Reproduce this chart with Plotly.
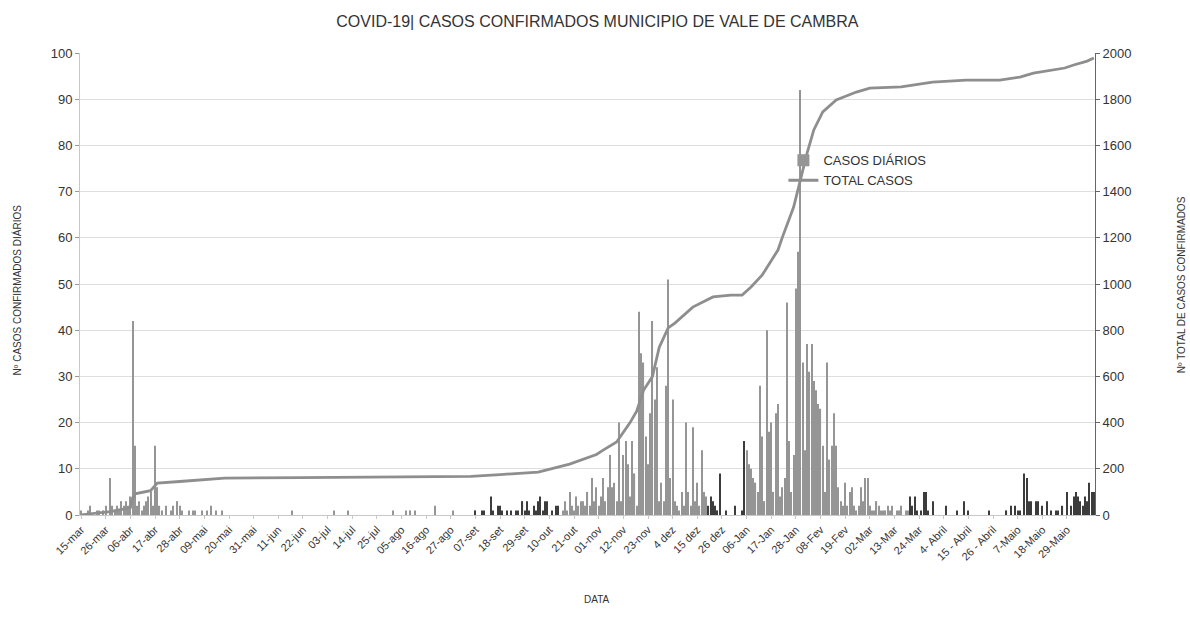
import pandas as pd
import plotly.graph_objects as go

# ---------------- DATA ----------------
data_inicio = "2020-03-15"

casos_mar_2020 = [1, 0, 0, 1, 2, 0, 0, 1, 1, 0, 1, 2, 0, 8, 2, 1, 2]
casos_abr_2020 = [1, 3, 2, 3, 2, 4, 42, 15, 2, 3, 1, 2, 3, 4, 5, 2, 15, 6, 2, 1,
                  0, 2, 0, 1, 2, 0, 3, 2, 1, 0]
casos_mai_2020 = [0, 1, 0, 1, 1, 0, 0, 1, 0, 1, 0, 2, 0, 1, 0, 0, 1, 0, 0, 0,
                  0, 0, 0, 0, 0, 0, 0, 0, 0, 0, 0]
casos_jun_2020 = [0, 0, 0, 0, 0, 0, 0, 0, 0, 0, 0, 0, 0, 0, 0, 0, 1, 0, 0, 0,
                  0, 0, 0, 0, 0, 0, 0, 0, 0, 0]
casos_jul_2020 = [0, 0, 0, 0, 0, 1, 0, 0, 0, 0, 0, 1, 0, 0, 0, 0, 0, 0, 0, 0,
                  0, 0, 0, 0, 0, 0, 0, 0, 0, 0, 0]
casos_ago_2020 = [1, 0, 0, 0, 0, 0, 1, 0, 1, 0, 1, 0, 0, 0, 0, 0, 0, 0, 0, 2,
                  0, 0, 0, 0, 0, 0, 0, 1, 0, 0, 0]
casos_set_2020 = [0, 0, 0, 0, 0, 0, 1, 0, 0, 1, 1, 0, 0, 4, 1, 0, 2, 2, 1, 0,
                  1, 0, 1, 0, 1, 1, 0, 3, 1, 3]
casos_out_2020 = [1, 0, 2, 1, 3, 4, 1, 3, 3, 0, 1, 0, 2, 2, 0, 1, 3, 1, 5, 2,
                  1, 4, 2, 3, 3, 2, 5, 2, 8, 3, 6]
casos_nov_2020 = [2, 4, 8, 3, 6, 13, 6, 7, 3, 20, 3, 13, 16, 11, 4, 16, 9, 2, 44, 35,
                  33, 17, 11, 22, 42, 25, 32, 3, 7, 3]
casos_dez_2020 = [28, 51, 8, 25, 3, 2, 1, 5, 2, 20, 5, 2, 19, 3, 7, 2, 14, 5, 4, 2,
                  4, 3, 2, 1, 9, 0, 0, 1, 0, 0, 0]
casos_jan_2021 = [2, 0, 0, 1, 16, 14, 11, 10, 8, 7, 5, 28, 17, 3, 40, 18, 20, 5, 22, 24,
                  4, 6, 8, 46, 16, 5, 13, 49, 57, 92, 33]
casos_fev_2021 = [14, 37, 31, 37, 29, 27, 24, 23, 15, 5, 33, 12, 15, 22, 15, 6, 3, 2, 7, 2,
                  5, 6, 2, 1, 2, 6, 3, 8]
casos_mar_2021 = [8, 2, 1, 1, 3, 2, 1, 1, 1, 2, 1, 2, 0, 1, 1, 2, 0, 1, 1, 4,
                  2, 4, 1, 0, 1, 5, 5, 1, 0, 3, 0]
casos_abr_2021 = [0, 0, 0, 0, 2, 0, 0, 0, 0, 1, 0, 0, 3, 0, 1, 0, 0, 0, 0, 0,
                  0, 0, 0, 1, 0, 0, 0, 0, 0, 0]
casos_mai_2021 = [0, 1, 0, 2, 0, 2, 1, 1, 0, 9, 8, 3, 3, 0, 3, 3, 0, 2, 0, 3,
                  0, 1, 0, 1, 1, 0, 2, 0, 5, 0, 2]
casos_jun_2021 = [4, 5, 4, 3, 2, 4, 3, 7, 5, 5]

datas_total = ["2020-03-15", "2020-03-28", "2020-04-04", "2020-04-06", "2020-04-07",
               "2020-04-08", "2020-04-15", "2020-04-17", "2020-04-18", "2020-04-28",
               "2020-05-07", "2020-05-18", "2020-06-21", "2020-08-04", "2020-09-05",
               "2020-09-18", "2020-10-05", "2020-10-19", "2020-10-31", "2020-11-03",
               "2020-11-09", "2020-11-15", "2020-11-18", "2020-11-21", "2020-11-25",
               "2020-11-28", "2020-12-02", "2020-12-05", "2020-12-13", "2020-12-22",
               "2020-12-30", "2021-01-04", "2021-01-08", "2021-01-13", "2021-01-17",
               "2021-01-20", "2021-01-22", "2021-01-27", "2021-01-30", "2021-02-02",
               "2021-02-05", "2021-02-09", "2021-02-15", "2021-02-24", "2021-03-02",
               "2021-03-16", "2021-03-30", "2021-04-14", "2021-04-29", "2021-05-08",
               "2021-05-14", "2021-05-20", "2021-05-23", "2021-05-28", "2021-06-01",
               "2021-06-07", "2021-06-10"]
valores_total = [1, 15, 28, 32, 75,
                 92, 105, 125, 138, 145,
                 153, 160, 162, 164, 167,
                 175, 186, 220, 262, 281,
                 316, 400, 450, 540, 600,
                 725, 810, 831, 900, 944,
                 952, 952, 987, 1039, 1104,
                 1147, 1203, 1333, 1450, 1567,
                 1667, 1745, 1797, 1831, 1848,
                 1853, 1874, 1883, 1883, 1896,
                 1913, 1922, 1926, 1935, 1948,
                 1965, 1978]

rotulos_x = ["15-mar", "26-mar", "06-abr", "17-abr", "28-abr", "09-mai", "20-mai",
             "31-mai", "11-jun", "22-jun", "03-jul", "14-jul", "25-jul", "05-ago",
             "16-ago", "27-ago", "07-set", "18-set", "29-set", "10-out", "21-out",
             "01-nov", "12-nov", "23-nov", "4 dez", "15 dez", "26 dez", "06-Jan",
             "17-Jan", "28-Jan", "08-Fev", "19-Fev", "02-Mar", "13-Mar", "24-Mar",
             "4- Abril", "15 - Abril", "26 - Abril", "7-Maio", "18-Maio", "29-Maio"]

# ---------------- BUILD ----------------
casos_diarios = (casos_mar_2020 + casos_abr_2020 + casos_mai_2020 + casos_jun_2020 +
                 casos_jul_2020 + casos_ago_2020 + casos_set_2020 + casos_out_2020 +
                 casos_nov_2020 + casos_dez_2020 + casos_jan_2021 + casos_fev_2021 +
                 casos_mar_2021 + casos_abr_2021 + casos_mai_2021 + casos_jun_2021)
datas = pd.date_range(data_inicio, periods=len(casos_diarios), freq="D")
tick_pos = pd.date_range(data_inicio, periods=len(rotulos_x), freq="11D")

escuro = [("2020-09-01", "2020-10-14"), ("2020-12-20", "2021-01-05"), ("2021-03-20", "2021-06-30")]


def cor(d):
    for a, b in escuro:
        if pd.Timestamp(a) <= d <= pd.Timestamp(b):
            return "#3c3c3c"
    return "#959595"


cores = [cor(d) for d in datas]

FONT = "Liberation Sans, Arial, sans-serif"

fig = go.Figure()
fig.add_trace(go.Bar(
    x=datas, y=casos_diarios, name="CASOS DIÁRIOS",
    marker=dict(color=cores, line=dict(width=0)), yaxis="y"))
fig.add_trace(go.Scatter(
    x=datas_total, y=valores_total, name="TOTAL CASOS", mode="lines",
    line=dict(color="#8e8e8e", width=2.8), yaxis="y2"))

fig.update_layout(
    width=1190, height=617,
    template="none",
    paper_bgcolor="white", plot_bgcolor="white",
    margin=dict(l=80, r=95, t=53, b=102),
    bargap=0.5,
    font=dict(family=FONT, color="#333333"),
    title=dict(text="COVID-19| CASOS CONFIRMADOS MUNICIPIO DE VALE DE CAMBRA",
               x=0.502, xref="container", xanchor="center",
               y=0.965, yref="container", yanchor="middle",
               font=dict(size=16, color="#333333", family=FONT)),
    xaxis=dict(type="date", range=["2020-03-14 12:00", "2021-06-10 12:00"],
               tickvals=tick_pos, ticktext=rotulos_x, tickangle=-45,
               tickfont=dict(size=11, color="#333333"),
               showgrid=False, showline=True, linecolor="#c8c8c8", linewidth=1,
               ticks="outside", ticklen=3, tickcolor="#c8c8c8",
               automargin=False, zeroline=False),
    yaxis=dict(range=[0, 100], dtick=10, tick0=0,
               showgrid=True, gridcolor="#dedede", gridwidth=1,
               showline=True, linecolor="#c8c8c8", linewidth=1,
               ticks="outside", ticklen=4, tickcolor="#999999",
               tickfont=dict(size=13, color="#333333"),
               automargin=False, zeroline=False),
    yaxis2=dict(range=[0, 2000], dtick=200, tick0=0, overlaying="y", side="right",
                showgrid=False, showline=True, linecolor="#666666", linewidth=1,
                ticks="outside", ticklen=4, tickcolor="#666666",
                tickfont=dict(size=13, color="#333333"),
                automargin=False, zeroline=False),
    legend=dict(x=0.693, y=0.80, xanchor="left", yanchor="top",
                bgcolor="rgba(0,0,0,0)", font=dict(size=13, color="#333333"),
                itemwidth=30, tracegroupgap=6),
    showlegend=True,
    annotations=[
        dict(text="Nº CASOS CONFIRMADOS DIÁRIOS", xref="paper", yref="paper",
             x=-0.0695, y=0.487, textangle=-90, showarrow=False,
             font=dict(size=10, color="#333333")),
        dict(text="Nº TOTAL DE CASOS CONFIRMADOS", xref="paper", yref="paper",
             x=1.0935, y=0.498, textangle=-90, showarrow=False,
             font=dict(size=10, color="#333333")),
        dict(text="DATA", xref="paper", yref="paper",
             x=0.509, y=-0.199, showarrow=False,
             font=dict(size=10, color="#333333")),
    ],
)

fig.write_html("out.html", config={"displayModeBar": False},
               post_script="document.body.style.margin='0';")
